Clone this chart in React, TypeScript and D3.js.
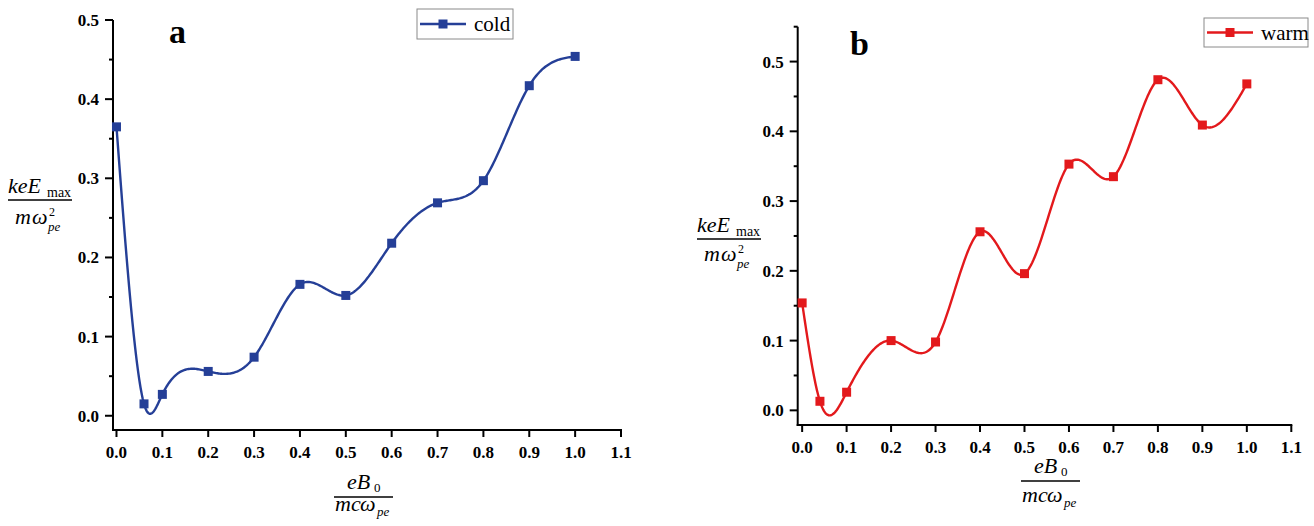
import React from "react";
import * as d3 from "d3";

const xTicks = [0, 0.1, 0.2, 0.3, 0.4, 0.5, 0.6, 0.7, 0.8, 0.9, 1.0, 1.1];
const yTicksMajor = [0, 0.1, 0.2, 0.3, 0.4, 0.5];

const coldX = [0, 0.06, 0.1, 0.2, 0.3, 0.4, 0.5, 0.6, 0.7, 0.8, 0.9, 1.0];
const coldY = [0.365, 0.015, 0.027, 0.056, 0.074, 0.166, 0.152, 0.218, 0.269, 0.297, 0.417, 0.454];

const warmX = [0, 0.04, 0.1, 0.2, 0.3, 0.4, 0.5, 0.6, 0.7, 0.8, 0.9, 1.0];
const warmY = [0.154, 0.013, 0.026, 0.1, 0.098, 0.256, 0.196, 0.353, 0.335, 0.474, 0.409, 0.468];

const FONT = "'Liberation Serif', 'Times New Roman', serif";

// natural cubic spline y(x) through the data, sampled for drawing the smooth line
function splineSamples(xs: number[], ys: number[], per = 40): [number, number][] {
  const n = xs.length;
  const h: number[] = [];
  for (let i = 0; i < n - 1; i++) h.push(xs[i + 1] - xs[i]);
  const a = new Array(n).fill(0), b = new Array(n).fill(1), c = new Array(n).fill(0), r = new Array(n).fill(0);
  for (let i = 1; i < n - 1; i++) {
    a[i] = h[i - 1];
    b[i] = 2 * (h[i - 1] + h[i]);
    c[i] = h[i];
    r[i] = 6 * ((ys[i + 1] - ys[i]) / h[i] - (ys[i] - ys[i - 1]) / h[i - 1]);
  }
  // Thomas algorithm
  const cp = new Array(n).fill(0), dp = new Array(n).fill(0);
  cp[0] = c[0] / b[0];
  dp[0] = r[0] / b[0];
  for (let i = 1; i < n; i++) {
    const m = b[i] - a[i] * cp[i - 1];
    cp[i] = c[i] / m;
    dp[i] = (r[i] - a[i] * dp[i - 1]) / m;
  }
  const M = new Array(n).fill(0);
  M[n - 1] = dp[n - 1];
  for (let i = n - 2; i >= 0; i--) M[i] = dp[i] - cp[i] * M[i + 1];
  const out: [number, number][] = [];
  for (let i = 0; i < n - 1; i++) {
    for (let k = 0; k < per; k++) {
      const t = xs[i] + (h[i] * k) / per;
      const A = (xs[i + 1] - t) / h[i];
      const B = (t - xs[i]) / h[i];
      const v = A * ys[i] + B * ys[i + 1] + ((A * A * A - A) * M[i] + (B * B * B - B) * M[i + 1]) * (h[i] * h[i]) / 6;
      out.push([t, v]);
    }
  }
  out.push([xs[n - 1], ys[n - 1]]);
  return out;
}

type PanelProps = {
  xs: number[];
  ys: number[];
  color: string;
  xDomain: [number, number];
  xRange: [number, number];
  yDomain: [number, number];
  yRange: [number, number];
  minorTicks: number[];
  letter: string;
  letterPos: [number, number];
  legend: string;
  legendBox: [number, number, number, number];
  yLabelPos: [number, number];
  yDenomDy: number;
  xLabelPos: [number, number];
  xDenomDy: number;
};

function Panel(p: PanelProps) {
  const x = d3.scaleLinear().domain(p.xDomain).range(p.xRange);
  const y = d3.scaleLinear().domain(p.yDomain).range(p.yRange);
  const pts: [number, number][] = p.xs.map((v, i) => [x(v), y(p.ys[i])]);
  const smooth = splineSamples(p.xs, p.ys);
  const line = d3.line<[number, number]>().x((d) => x(d[0])).y((d) => y(d[1]))(smooth) || "";
  const x0 = p.xRange[0];
  const yb = p.yRange[0];
  const ms = 9;
  const [lx, ly, lw, lh] = p.legendBox;
  const [ylx, yly] = p.yLabelPos;
  const [xlx, xly] = p.xLabelPos;
  return (
    <g fontFamily={FONT}>
      <line x1={x0} x2={x0} y1={yb + 1} y2={p.yRange[1]} stroke="#000" strokeWidth={2} />
      <line x1={x0 - 1} x2={p.xRange[1] + 1} y1={yb} y2={yb} stroke="#000" strokeWidth={2} />
      {yTicksMajor.map((t) => (
        <g key={"y" + t}>
          <line x1={x0 - 8} x2={x0} y1={y(t)} y2={y(t)} stroke="#000" strokeWidth={2} />
          <text x={x0 - 14} y={y(t) + 6} textAnchor="end" fontWeight="bold" fontSize={17}>
            {t.toFixed(1)}
          </text>
        </g>
      ))}
      {p.minorTicks.map((t) => (
        <line key={"m" + t} x1={x0 - 4} x2={x0} y1={y(t)} y2={y(t)} stroke="#000" strokeWidth={2} />
      ))}
      {xTicks.map((t) => (
        <g key={"x" + t}>
          <line x1={x(t)} x2={x(t)} y1={yb} y2={yb + 7} stroke="#000" strokeWidth={2} />
          <text x={x(t)} y={yb + 28} textAnchor="middle" fontWeight="bold" fontSize={17}>
            {t.toFixed(1)}
          </text>
        </g>
      ))}
      <path d={line} fill="none" stroke={p.color} strokeWidth={2.4} />
      {pts.map(([px, py], i) => (
        <rect key={i} x={px - ms / 2} y={py - ms / 2} width={ms} height={ms} fill={p.color} />
      ))}
      <text x={p.letterPos[0]} y={p.letterPos[1]} fontWeight="bold" fontSize={34}>
        {p.letter}
      </text>
      <rect x={lx} y={ly} width={lw} height={lh} fill="#fff" stroke="#8a8a8a" strokeWidth={1} />
      <line x1={lx + 3} x2={lx + 49} y1={ly + lh / 2} y2={ly + lh / 2} stroke={p.color} strokeWidth={2.4} />
      <rect x={lx + 26 - 4.5} y={ly + lh / 2 - 4.5} width={9} height={9} fill={p.color} />
      <text x={lx + 57} y={ly + lh / 2 + 7} fontSize={21}>
        {p.legend}
      </text>
      <g transform={`translate(${ylx},${yly})`}>
        <text x={0} y={-7} fontStyle="italic" fontSize={22}>keE</text>
        <text x={39} y={-3} fontSize={14}>max</text>
        <line x1={0} x2={64} y1={0} y2={0} stroke="#000" strokeWidth={1.5} />
        <text x={7} y={p.yDenomDy} fontStyle="italic" fontSize={22}>m</text>
        <text x={24} y={p.yDenomDy} fontStyle="italic" fontSize={22}>ω</text>
        <text x={41} y={p.yDenomDy - 8} fontSize={12}>2</text>
        <text x={40} y={p.yDenomDy + 7} fontStyle="italic" fontSize={13}>pe</text>
      </g>
      <g transform={`translate(${xlx},${xly})`}>
        <text x={13} y={-8} fontStyle="italic" fontSize={22}>eB</text>
        <text x={40} y={-5} fontSize={13}>0</text>
        <line x1={0} x2={59} y1={0} y2={0} stroke="#000" strokeWidth={1.5} />
        <text x={1} y={p.xDenomDy} fontStyle="italic" fontSize={22}>mc</text>
        <text x={26} y={p.xDenomDy} fontStyle="italic" fontSize={22}>ω</text>
        <text x={43} y={p.xDenomDy + 5} fontStyle="italic" fontSize={13}>pe</text>
      </g>
    </g>
  );
}

export default function App() {
  return (
    <svg width={1314} height={526} style={{ position: "absolute", left: 0, top: 0, background: "#fff" }}>
      <Panel
        xs={coldX}
        ys={coldY}
        color="#253F97"
        xDomain={[-0.0076, 1.1]}
        xRange={[113, 621]}
        yDomain={[-0.018, 0.5]}
        yRange={[430, 20]}
        minorTicks={[0.05, 0.15, 0.25, 0.35, 0.45]}
        letter="a"
        letterPos={[169, 43]}
        legend="cold"
        legendBox={[417, 9, 96, 30]}
        yLabelPos={[8, 200]}
        yDenomDy={24}
        xLabelPos={[334, 497]}
        xDenomDy={14}
      />
      <Panel
        xs={warmX}
        ys={warmY}
        color="#E3191C"
        xDomain={[-0.01, 1.1]}
        xRange={[797.7, 1291.3]}
        yDomain={[-0.021, 0.55]}
        yRange={[425, 26.7]}
        minorTicks={[0.05, 0.15, 0.25, 0.35, 0.45, 0.55]}
        letter="b"
        letterPos={[850, 55]}
        legend="warm"
        legendBox={[1204, 18, 104, 29]}
        yLabelPos={[697, 239]}
        yDenomDy={22}
        xLabelPos={[1021, 481]}
        xDenomDy={21}
      />
    </svg>
  );
}
